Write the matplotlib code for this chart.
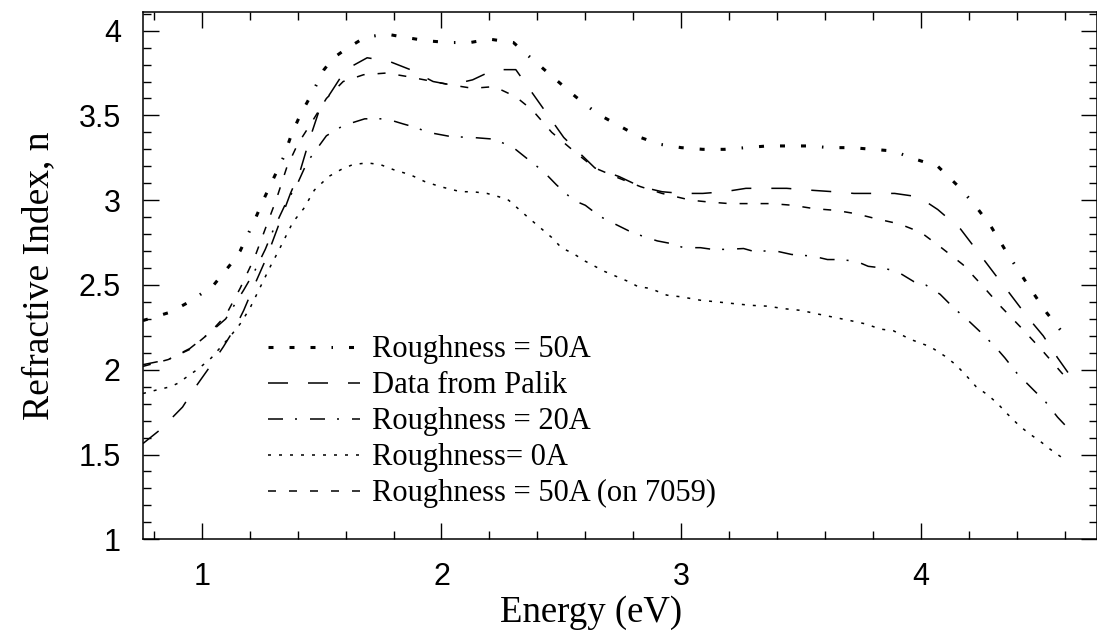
import matplotlib
matplotlib.use("Agg")
import matplotlib.pyplot as plt
from matplotlib.ticker import MultipleLocator

plt.rcParams['lines.scale_dashes'] = False

# photon energy (eV) and refractive index for each curve
x_50a = [0.755, 0.80, 0.87, 0.96, 1.05, 1.125, 1.16, 1.22, 1.26, 1.30, 1.34, 1.375, 1.41,
         1.46, 1.51, 1.55, 1.60, 1.68, 1.77, 1.85, 1.94, 2.03, 2.12, 2.20, 2.30, 2.38, 2.47,
         2.56, 2.65, 2.74, 2.83, 2.91, 3.00, 3.09, 3.18, 3.27, 3.36, 3.44, 3.53, 3.62, 3.71,
         3.80, 3.885, 3.97, 4.07, 4.15, 4.22, 4.29, 4.35, 4.40, 4.46, 4.525, 4.59, 4.62]
n_50a = [2.29, 2.31, 2.34, 2.41, 2.50, 2.63, 2.70, 2.88, 3.01, 3.13, 3.25, 3.39, 3.50,
         3.63, 3.77, 3.84, 3.89, 3.96, 3.98, 3.96, 3.94, 3.93, 3.93, 3.95, 3.93, 3.83, 3.72,
         3.61, 3.51, 3.44, 3.37, 3.33, 3.31, 3.30, 3.30, 3.31, 3.32, 3.32, 3.32, 3.31, 3.31,
         3.30, 3.29, 3.245, 3.20, 3.09, 2.98, 2.85, 2.71, 2.60, 2.47, 2.335, 2.22, 2.16]

x_palik = [0.755, 0.83, 0.92, 0.97, 1.035, 1.09, 1.14, 1.175, 1.22, 1.27, 1.32, 1.37, 1.41,
           1.45, 1.49, 1.55, 1.60, 1.69, 1.78, 1.87, 1.965, 2.04, 2.13, 2.22, 2.31, 2.37,
           2.43, 2.51, 2.56, 2.64, 2.74, 2.83, 2.92, 3.00, 3.09, 3.18, 3.27, 3.36, 3.44, 3.53,
           3.635, 3.72, 3.81, 3.89, 3.99, 4.07, 4.165, 4.235, 4.31, 4.37, 4.445, 4.51, 4.57, 4.62]
n_palik = [1.565, 1.65, 1.78, 1.89, 2.02, 2.135, 2.25, 2.35, 2.50, 2.66, 2.85, 3.04, 3.17,
           3.36, 3.53, 3.66, 3.77, 3.84, 3.82, 3.77, 3.70, 3.68, 3.71, 3.77, 3.77, 3.65,
           3.53, 3.37, 3.30, 3.19, 3.14, 3.08, 3.05, 3.04, 3.04, 3.05, 3.07, 3.07, 3.07, 3.06,
           3.05, 3.04, 3.04, 3.04, 3.02, 2.945, 2.83, 2.70, 2.56, 2.45, 2.31, 2.20, 2.07, 1.97]

x_20a = [0.755, 0.86, 0.95, 1.035, 1.10, 1.175, 1.22, 1.265, 1.30, 1.35, 1.40, 1.44, 1.52,
         1.59, 1.68, 1.77, 1.84, 1.89, 1.945, 2.04, 2.13, 2.22, 2.30, 2.375, 2.425, 2.48,
         2.55, 2.60, 2.66, 2.73, 2.78, 2.835, 2.90, 2.955, 3.01, 3.08, 3.13, 3.19, 3.26, 3.31,
         3.38, 3.46, 3.55, 3.61, 3.66, 3.73, 3.78, 3.84, 3.90, 3.97, 4.02, 4.08, 4.14, 4.19,
         4.25, 4.31, 4.35, 4.40, 4.47, 4.52, 4.57, 4.61]
n_20a = [2.03, 2.06, 2.125, 2.22, 2.30, 2.47, 2.58, 2.71, 2.83, 2.98, 3.10, 3.225, 3.38,
         3.44, 3.48, 3.48, 3.45, 3.43, 3.40, 3.375, 3.37, 3.36, 3.31, 3.225, 3.17, 3.09,
         3.00, 2.97, 2.905, 2.855, 2.82, 2.79, 2.76, 2.745, 2.72, 2.72, 2.71, 2.71, 2.715, 2.695,
         2.705, 2.68, 2.67, 2.65, 2.65, 2.64, 2.61, 2.60, 2.58, 2.52, 2.50, 2.445, 2.36, 2.30,
         2.22, 2.135, 2.07, 1.98, 1.88, 1.81, 1.72, 1.66]

x_0a = [0.755, 0.81, 0.87, 0.90, 0.95, 0.99, 1.04, 1.08, 1.115, 1.16, 1.20, 1.245, 1.29,
        1.32, 1.38, 1.425, 1.47, 1.53, 1.58, 1.63, 1.69, 1.745, 1.80, 1.87, 1.93, 1.995,
        2.08, 2.13, 2.19, 2.24, 2.28, 2.32, 2.36, 2.41, 2.46, 2.50, 2.55, 2.60, 2.68, 2.73,
        2.78, 2.82, 2.87, 2.94, 3.00, 3.08, 3.15, 3.22, 3.29, 3.36, 3.43, 3.50, 3.565, 3.635,
        3.705, 3.77, 3.83, 3.885, 3.955, 4.04, 4.10, 4.145, 4.186, 4.23, 4.28, 4.32, 4.36,
        4.41, 4.45, 4.50, 4.54, 4.59, 4.61]
n_0a = [1.86, 1.88, 1.90, 1.92, 1.97, 2.01, 2.07, 2.135, 2.19, 2.27, 2.36, 2.49, 2.62,
        2.70, 2.87, 2.95, 3.06, 3.14, 3.18, 3.21, 3.22, 3.21, 3.18, 3.15, 3.11, 3.08,
        3.05, 3.05, 3.04, 3.02, 3.00, 2.95, 2.90, 2.84, 2.78, 2.72, 2.685, 2.64, 2.58, 2.55,
        2.52, 2.49, 2.48, 2.44, 2.43, 2.41, 2.40, 2.39, 2.38, 2.375, 2.36, 2.35, 2.33, 2.31,
        2.29, 2.27, 2.24, 2.23, 2.18, 2.135, 2.08, 2.03, 1.97, 1.90, 1.85, 1.80, 1.74,
        1.67, 1.625, 1.575, 1.53, 1.48, 1.46]

x_7059 = [0.755, 0.86, 0.95, 1.035, 1.10, 1.16, 1.22, 1.27, 1.31, 1.355, 1.40, 1.45, 1.52,
          1.59, 1.675, 1.77, 1.855, 1.965, 2.04, 2.13, 2.22, 2.31, 2.38, 2.46, 2.56, 2.64,
          2.74, 2.83, 2.92, 3.04, 3.11, 3.20, 3.285, 3.375, 3.465, 3.555, 3.645, 3.73, 3.815,
          3.91, 4.00, 4.085, 4.175, 4.26, 4.335, 4.42, 4.505, 4.585, 4.62]
n_7059 = [2.02, 2.06, 2.12, 2.22, 2.32, 2.48, 2.66, 2.85, 3.00, 3.195, 3.33, 3.44, 3.60,
          3.70, 3.74, 3.75, 3.73, 3.70, 3.68, 3.66, 3.67, 3.61, 3.53, 3.40, 3.28, 3.19,
          3.13, 3.08, 3.04, 3.00, 2.99, 2.98, 2.98, 2.98, 2.97, 2.95, 2.94, 2.92, 2.89,
          2.86, 2.81, 2.72, 2.62, 2.49, 2.37, 2.245, 2.115, 1.985, 1.93]

labels = ['Roughness = 50A', 'Data from Palik', 'Roughness = 20A',
          'Roughness= 0A', 'Roughness = 50A (on 7059)']


def pt(*pixels):
    # dash lengths given in pixels -> points at 100 dpi
    return [p * 0.72 for p in pixels]


fig = plt.figure(figsize=(10.97, 6.36), dpi=100)
ax = fig.add_axes([143 / 1097, 1 - 539.3 / 636, (1096.7 - 143) / 1097, (539.3 - 12) / 636])

ax.plot(x_50a, n_50a, color='black', lw=2.2,
        dashes=pt(5, 16, 5, 16, 5, 16, 1.5, 16), label=labels[0])
ax.plot(x_palik, n_palik, color='black', lw=1.1, dashes=pt(20, 20), label=labels[1])
ax.plot(x_20a, n_20a, color='black', lw=1.1, dashes=pt(15, 12, 2, 13), label=labels[2])
ax.plot(x_0a, n_0a, color='black', lw=1.1, dashes=pt(3, 8), label=labels[3])
ax.plot(x_7059, n_7059, color='black', lw=1.1, dashes=pt(8, 13), label=labels[4])

ax.set_xlim(0.755, 4.733)
ax.set_ylim(1.0, 4.11)

ax.xaxis.set_major_locator(MultipleLocator(1))
ax.xaxis.set_minor_locator(MultipleLocator(0.2))
ax.yaxis.set_minor_locator(MultipleLocator(0.1))
ax.set_yticks([1, 1.5, 2, 2.5, 3, 3.5, 4])
ax.set_yticklabels(['1', '1.5', '2', '2.5', '3', '3.5', '4'])

ax.tick_params(which='both', direction='in', top=True, right=True, width=1.0)
ax.tick_params(which='major', length=11.5)
ax.tick_params(which='minor', length=6)
ax.tick_params(axis='x', which='major', pad=16)
ax.tick_params(axis='y', which='major', pad=16)
for lab in ax.get_xticklabels() + ax.get_yticklabels():
    lab.set_fontfamily('Liberation Sans')
    lab.set_fontsize(22)
for s in ax.spines.values():
    s.set_linewidth(1.1)

ax.set_xlabel('Energy (eV)', family='Liberation Serif', fontsize=26.5)
ax.xaxis.set_label_coords(0.47, -0.106, transform=ax.transAxes)
ax.xaxis.label.set_va('top')
ax.set_ylabel('Refractive Index, n', family='Liberation Serif', fontsize=27, labelpad=16)

ax.legend(loc='upper left', bbox_to_anchor=(0.131, 0.387), frameon=False,
          prop={'family': 'Liberation Serif', 'size': 22},
          handlelength=3.0, handletextpad=0.4, labelspacing=0.23,
          borderpad=0, borderaxespad=0)

fig.savefig('out.png', dpi=100)
